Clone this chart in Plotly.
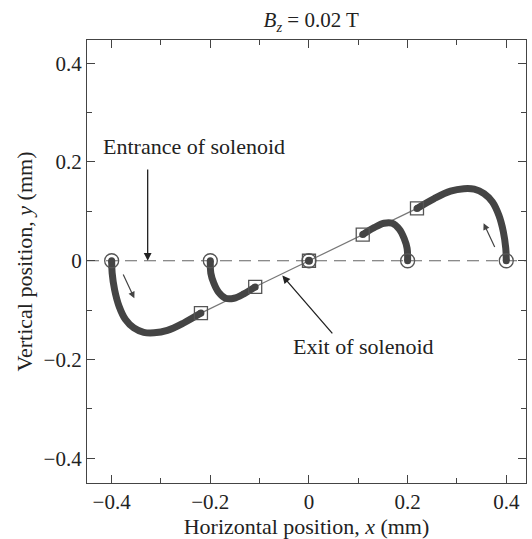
import plotly.graph_objects as go

# Entrance points (circles) and exit points (squares)
entr_x = [-0.4, -0.2, 0.0, 0.2, 0.4]
entr_y = [0.0, 0.0, 0.0, 0.0, 0.0]
exit_x = [-0.219, -0.109, 0.0, 0.109, 0.219]
exit_y = [-0.106, -0.053, 0.0, 0.053, 0.106]

# Trajectories
t1_x = [-0.400, -0.399, -0.394, -0.385, -0.372, -0.355, -0.335, -0.314, -0.287, -0.254, -0.219]
t1_y = [0.000, -0.025, -0.059, -0.092, -0.119, -0.136, -0.145, -0.146, -0.141, -0.126, -0.106]
t2_x = [-0.200, -0.199, -0.193, -0.183, -0.169, -0.152, -0.132, -0.109]
t2_y = [0.000, -0.025, -0.045, -0.064, -0.076, -0.076, -0.067, -0.053]
t4_x = [0.200, 0.199, 0.193, 0.183, 0.169, 0.152, 0.132, 0.109]
t4_y = [0.000, 0.025, 0.045, 0.064, 0.076, 0.076, 0.067, 0.053]
t5_x = [0.400, 0.399, 0.394, 0.385, 0.372, 0.355, 0.335, 0.314, 0.287, 0.254, 0.219]
t5_y = [0.000, 0.025, 0.059, 0.092, 0.119, 0.136, 0.145, 0.146, 0.141, 0.126, 0.106]

x_ticks = [-0.4, -0.2, 0, 0.2, 0.4]
y_ticks = [-0.4, -0.2, 0, 0.2, 0.4]
x_labels = ["\u22120.4", "\u22120.2", "0", "0.2", "0.4"]
y_labels = ["\u22120.4", "\u22120.2", "0", "0.2", "0.4"]

FONT = "Liberation Serif, Times New Roman, serif"
TXT = "#222222"
fig = go.Figure()

# dashed line at y=0
fig.add_trace(go.Scatter(x=[-0.45, 0.44], y=[0, 0], mode="lines",
                         line=dict(color="#666666", width=1.2, dash="12px,7px"),
                         hoverinfo="skip", showlegend=False))
# thin exit line
fig.add_trace(go.Scatter(x=[exit_x[0], exit_x[-1]], y=[exit_y[0], exit_y[-1]], mode="lines",
                         line=dict(color="#777777", width=1.2),
                         showlegend=False))
# trajectories
for tx, ty in [(t1_x, t1_y), (t2_x, t2_y), (t4_x, t4_y), (t5_x, t5_y)]:
    fig.add_trace(go.Scatter(x=tx, y=ty, mode="lines",
                             line=dict(color="#444444", width=7, shape="spline"),
                             showlegend=False))
    fig.add_trace(go.Scatter(x=[tx[0], tx[-1]], y=[ty[0], ty[-1]], mode="markers",
                             marker=dict(color="#444444", size=7, line=dict(width=0)),
                             showlegend=False))
# central dot
fig.add_trace(go.Scatter(x=[0], y=[0], mode="markers",
                         marker=dict(color="#444444", size=8, line=dict(width=0)),
                         showlegend=False))
# markers
fig.add_trace(go.Scatter(x=exit_x, y=exit_y, mode="markers",
                         marker=dict(symbol="square-open", size=13, color="#555555",
                                     line=dict(width=1.3)),
                         showlegend=False))
fig.add_trace(go.Scatter(x=entr_x, y=entr_y, mode="markers",
                         marker=dict(symbol="circle-open", size=14, color="#555555",
                                     line=dict(width=1.3)),
                         showlegend=False))

axis_common = dict(showgrid=False, zeroline=False, showline=True, linecolor="#444444",
                   linewidth=1.3, mirror="allticks", ticks="inside", ticklen=8,
                   tickwidth=1.2, tickcolor="#444444",
                   tickfont=dict(family=FONT, size=21, color=TXT),
                   minor=dict(dtick=0.1, ticks="inside", ticklen=5, tickwidth=1.2,
                              tickcolor="#444444", showgrid=False))

fig.update_xaxes(range=[-0.45, 0.44], tickvals=x_ticks, ticktext=x_labels,
                 title=dict(text="Horizontal position, <i>x</i> (mm)",
                            font=dict(family=FONT, size=22, color=TXT), standoff=4),
                 **axis_common)
fig.update_yaxes(range=[-0.45, 0.447], tickvals=y_ticks, ticktext=y_labels,
                 title=dict(text="Vertical position, <i>y</i> (mm)",
                            font=dict(family=FONT, size=22, color=TXT), standoff=4),
                 **axis_common)

arrow_col = "#222222"
fig.add_annotation(x=-0.327, y=0.0, ax=-0.327, ay=0.188, xref="x", yref="y",
                   axref="x", ayref="y", text="", showarrow=True, arrowhead=2,
                   arrowsize=1.2, arrowwidth=1.3, arrowcolor=arrow_col)
fig.add_annotation(x=-0.054, y=-0.030, ax=0.05, ay=-0.150, xref="x", yref="y",
                   axref="x", ayref="y", text="", showarrow=True, arrowhead=2,
                   arrowsize=1.2, arrowwidth=1.3, arrowcolor=arrow_col)
fig.add_annotation(x=-0.354, y=-0.076, ax=-0.378, ay=-0.025, xref="x", yref="y",
                   axref="x", ayref="y", text="", showarrow=True, arrowhead=2,
                   arrowsize=1.1, arrowwidth=1.2, arrowcolor="#444444")
fig.add_annotation(x=0.354, y=0.076, ax=0.378, ay=0.025, xref="x", yref="y",
                   axref="x", ayref="y", text="", showarrow=True, arrowhead=2,
                   arrowsize=1.1, arrowwidth=1.2, arrowcolor="#444444")
fig.add_annotation(x=-0.422, y=0.231, xref="x", yref="y", text="Entrance of solenoid",
                   showarrow=False, xanchor="left", yanchor="middle",
                   font=dict(family=FONT, size=22, color=TXT))
fig.add_annotation(x=-0.037, y=-0.174, xref="x", yref="y", text="Exit of solenoid",
                   showarrow=False, xanchor="left", yanchor="middle",
                   font=dict(family=FONT, size=22, color=TXT))

fig.update_layout(
    width=532, height=539,
    margin=dict(l=87, r=6, t=40, b=56),
    paper_bgcolor="white", plot_bgcolor="white",
    title=dict(text="<i>B</i><sub><i>z</i></sub> = 0.02 T", x=0.585, xanchor="center",
               y=0.963, yanchor="middle",
               font=dict(family=FONT, size=21, color=TXT)),
    showlegend=False,
)

fig.write_html("out.html")
